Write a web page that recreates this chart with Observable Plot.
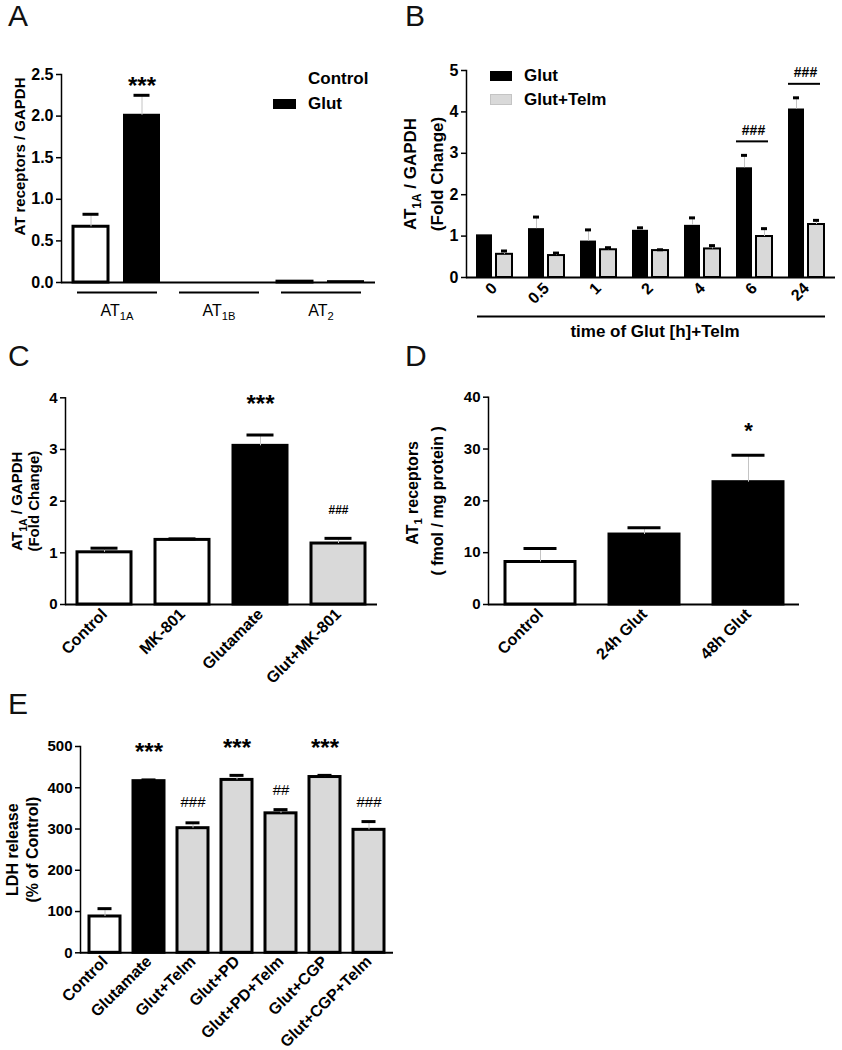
<!DOCTYPE html>
<html><head><meta charset="utf-8">
<script src="https://cdn.jsdelivr.net/npm/d3@7"></script>
<script src="https://cdn.jsdelivr.net/npm/@observablehq/plot@0.6"></script>
<style>
html,body{margin:0;padding:0;background:#fff;}
#page{position:relative;width:842px;height:1050px;background:#fff;font-family:"Liberation Sans",Arial,Helvetica,sans-serif;overflow:hidden;}
.panel{position:absolute;}
.letter{position:absolute;font-size:30px;line-height:30px;font-weight:normal;color:#111;}
.leg{position:absolute;font-size:17px;line-height:20px;font-weight:bold;color:#000;white-space:nowrap;}
.sw{position:absolute;}
</style></head><body><div id="page"></div>
<script>
// ---------- DATA ----------
// Panel A
const aReceptors = ["AT1A", "AT1B", "AT2"];
const aReceptorLabels = ["AT_{1A}", "AT_{1B}", "AT_{2}"];
const aConditions = ["Control", "Glut"];
const aControl = [0.67, 0, 0.01];
const aControlSem = [0.15, 0, 0];
const aGlut = [2.01, 0, 0.01];
const aGlutSem = [0.24, 0, 0];
const aSig = [{key: "AT1A|Glut", text: "***", y: 2.36}];

// Panel B
const bTimes = ["0", "0.5", "1", "2", "4", "6", "24"];
const bGlut = [1.03, 1.18, 0.88, 1.14, 1.26, 2.65, 4.07];
const bGlutSem = [0, 0.28, 0.27, 0.06, 0.18, 0.30, 0.27];
const bTelm = [0.56, 0.53, 0.67, 0.65, 0.69, 0.99, 1.28];
const bTelmSem = [0.08, 0.06, 0.05, 0.02, 0.08, 0.19, 0.10];
const bSig = [{time: "6", text: "###"}, {time: "24", text: "###"}];

// Panel C
const cGroups = ["Control", "MK-801", "Glutamate", "Glut+MK-801"];
const cValues = [1.01, 1.25, 3.07, 1.18];
const cSem = [0.08, 0.02, 0.21, 0.10];
const cSig = [{g: "Glutamate", text: "***", y: 3.87, size: 24}, {g: "Glut+MK-801", text: "###", y: 1.82, size: 12}];

// Panel D
const dGroups = ["Control", "24h Glut", "48h Glut"];
const dValues = [8.2, 13.5, 23.6];
const dSem = [2.6, 1.3, 5.2];
const dSig = [{g: "48h Glut", text: "*", y: 33.4}];

// Panel E
const eGroups = ["Control", "Glutamate", "Glut+Telm", "Glut+PD", "Glut+PD+Telm", "Glut+CGP", "Glut+CGP+Telm"];
const eValues = [88, 416, 302, 419, 338, 426, 298];
const eSem = [19, 3, 13, 11, 9, 4, 20];
const eSig = [
  {g: "Glutamate", text: "***", y: 486, size: 24},
  {g: "Glut+PD", text: "***", y: 495, size: 24},
  {g: "Glut+CGP", text: "***", y: 495, size: 24},
  {g: "Glut+Telm", text: "###", y: 364, size: 15},
  {g: "Glut+PD+Telm", text: "##", y: 394, size: 15},
  {g: "Glut+CGP+Telm", text: "###", y: 364, size: 15}
];

// ---------- HELPERS ----------
const FONT = '"Liberation Sans", Arial, Helvetica, sans-serif';
const baseStyle = {fontFamily: FONT, fontWeight: "bold", fontSize: "15px", color: "black", background: "transparent", overflow: "visible"};
const page = document.getElementById("page");
const GRAY = "#d9d9d9";
const ERR = "#c4c4c4";

function place(plot, left, top, w, h) {
  const div = document.createElement("div");
  div.className = "panel";
  Object.assign(div.style, {left: left + "px", top: top + "px", width: w + "px", height: h + "px"});
  div.appendChild(plot);
  page.appendChild(div);
  return div;
}
function html(cls, text, left, top, extra) {
  const d = document.createElement("div");
  d.className = cls;
  if (text) d.textContent = text;
  Object.assign(d.style, {left: left + "px", top: top + "px"}, extra || {});
  page.appendChild(d);
}
function subscripts(root) {
  root.querySelectorAll("text").forEach(t => {
    const nodes = t.querySelector("tspan") ? Array.from(t.querySelectorAll("tspan")) : [t];
    nodes.forEach(n => {
      const s = n.textContent;
      if (!/_\{/.test(s)) return;
      const fs = parseFloat(getComputedStyle(n).fontSize) || 15;
      const parts = s.split(/(_\{[^}]*\})/);
      n.textContent = "";
      let shifted = false;
      parts.forEach(p => {
        if (!p) return;
        const m = p.match(/^_\{([^}]*)\}$/);
        const ts = document.createElementNS("http://www.w3.org/2000/svg", "tspan");
        if (m) {
          ts.textContent = m[1];
          ts.setAttribute("font-size", (fs * 0.7).toFixed(1));
          ts.setAttribute("dy", (fs * 0.3).toFixed(1));
          shifted = true;
        } else {
          ts.textContent = p;
          if (shifted) { ts.setAttribute("dy", (-fs * 0.3).toFixed(1)); shifted = false; }
        }
        n.appendChild(ts);
      });
    });
  });
}
function yLabel(text, dx, dy, size) {
  return Plot.text([text], {text: d => d, frameAnchor: "left", textAnchor: "middle", lineAnchor: "middle", rotate: -90, dx, dy: dy || 0, fontSize: size});
}

// ---------- PANEL A ----------
const aRows = [];
aReceptors.forEach((r, i) => {
  aRows.push({key: r + "|Control", r, c: "Control", value: aControl[i], sem: aControlSem[i]});
  aRows.push({key: r + "|Glut", r, c: "Glut", value: aGlut[i], sem: aGlutSem[i]});
});
const aKeys = aRows.map(d => d.key);
const aLabelRows = aReceptors.map((r, i) => ({key: r + "|Control", label: aReceptorLabels[i]}));
const plotA = Plot.plot({
  width: 420, height: 280, marginLeft: 61, marginRight: 45, marginTop: 24, marginBottom: 48,
  style: baseStyle,
  x: {domain: aKeys, paddingInner: 0.31, paddingOuter: 0.21, axis: null},
  y: {domain: [0, 2.5], label: null},
  marks: [
    Plot.barY(aRows.filter(d => d.c === "Control" && d.value > 0), {x: "key", y: "value", fill: "white", stroke: "black", strokeWidth: 3}),
    Plot.barY(aRows.filter(d => d.c === "Glut" && d.value > 0), {x: "key", y: "value", fill: "black", stroke: "black", strokeWidth: 2}),
    Plot.ruleX(aRows.filter(d => d.sem > 0), {x: "key", y1: "value", y2: d => d.value + d.sem, stroke: ERR, strokeWidth: 1}),
    Plot.tickY(aRows.filter(d => d.sem > 0), {x: "key", y: d => d.value + d.sem, stroke: "black", strokeWidth: 3, insetLeft: 9.5, insetRight: 9.5}),
    Plot.text(aSig, {x: "key", y: "y", text: "text", fontSize: 24}),
    Plot.ruleY([0], {strokeWidth: 2}),
    Plot.frame({anchor: "left", strokeWidth: 1.5}),
    Plot.axisY({ticks: [0, 0.5, 1, 1.5, 2, 2.5], tickFormat: ".1f", tickSize: 5, tickPadding: 3, fontSize: 16, label: null, strokeWidth: 1.5}),
    Plot.tickY(aRows.filter(d => d.c === "Control"), {x: "key", y: 0, dy: 10, strokeWidth: 2, insetLeft: 4, insetRight: -8}),
    Plot.tickY(aRows.filter(d => d.c === "Glut"), {x: "key", y: 0, dy: 10, strokeWidth: 2, insetLeft: -8, insetRight: 2}),
    Plot.text(aLabelRows, {x: "key", y: 0, text: "label", dx: 26, dy: 28, fontSize: 16, fontWeight: "normal"}),
    yLabel("AT receptors / GAPDH", -41.5, -22, 15)
  ]
});
place(plotA, 0, 50, 420, 280);

// ---------- PANEL B ----------
const bRows = bTimes.map((t, i) => ({time: t, glut: bGlut[i], glutSem: bGlutSem[i], telm: bTelm[i], telmSem: bTelmSem[i]}));
const bSigRows = bSig.map(s => {
  const r = bRows.find(d => d.time === s.time);
  return {...s, cap: r.glut + r.glutSem};
});
const plotB = Plot.plot({
  width: 452, height: 305, marginLeft: 76, marginRight: 7, marginTop: 30, marginBottom: 68,
  style: baseStyle,
  x: {domain: bTimes, paddingInner: 0.30, paddingOuter: 0.15, label: null},
  y: {domain: [0, 5], label: null},
  marks: [
    Plot.barY(bRows, {x: "time", y: "glut", fill: "black", insetRight: 20}),
    Plot.barY(bRows, {x: "time", y: "telm", fill: GRAY, stroke: "black", strokeWidth: 2, insetLeft: 20}),
    Plot.ruleX(bRows.filter(d => d.glutSem > 0), {x: "time", y1: "glut", y2: d => d.glut + d.glutSem, dx: -10, stroke: ERR}),
    Plot.ruleX(bRows.filter(d => d.telmSem > 0), {x: "time", y1: "telm", y2: d => d.telm + d.telmSem, dx: 10, stroke: ERR}),
    Plot.tickY(bRows.filter(d => d.glutSem > 0), {x: "time", y: d => d.glut + d.glutSem, stroke: "black", strokeWidth: 3, insetLeft: 5, insetRight: 25}),
    Plot.tickY(bRows.filter(d => d.telmSem > 0), {x: "time", y: d => d.telm + d.telmSem, stroke: "black", strokeWidth: 3, insetLeft: 25, insetRight: 5}),
    Plot.tickY(bSigRows, {x: "time", y: "cap", dy: -14, strokeWidth: 2, insetLeft: 0, insetRight: 4}),
    Plot.text(bSigRows, {x: "time", y: "cap", dy: -25, dx: -1, text: "text", fontSize: 14}),
    Plot.ruleY([0], {strokeWidth: 2}),
    Plot.frame({anchor: "left", strokeWidth: 1.5}),
    Plot.axisY({ticks: [0, 1, 2, 3, 4, 5], tickFormat: "d", tickSize: 5, tickPadding: 3, fontSize: 16, label: null, strokeWidth: 1.5}),
    Plot.axisX({tickSize: 0, tickPadding: 8, tickRotate: -45, fontSize: 16, label: null}),
    Plot.ruleY([0], {dy: 39, insetLeft: 11, insetRight: 10, strokeWidth: 2}),
    Plot.text(["time of Glut [h]+Telm"], {text: d => d, frameAnchor: "bottom", textAnchor: "middle", lineAnchor: "middle", dy: 54, dx: 4, fontSize: 17}),
    yLabel("AT_{1A} / GAPDH", -56, 0, 17),
    yLabel("(Fold Change)", -29, 0, 17)
  ]
});
place(plotB, 390, 40, 452, 305);

// ---------- PANEL C ----------
const cRows = cGroups.map((g, i) => ({g, value: cValues[i], sem: cSem[i]}));
const plotC = Plot.plot({
  width: 410, height: 310, marginLeft: 65, marginRight: 33, marginTop: 22.3, marginBottom: 81,
  style: baseStyle,
  x: {domain: cGroups, paddingInner: 0.31, paddingOuter: 0.155, label: null},
  y: {domain: [0, 4], label: null},
  color: {domain: cGroups, range: ["white", "white", "black", GRAY]},
  marks: [
    Plot.barY(cRows, {x: "g", y: "value", fill: "g", stroke: "black", strokeWidth: 3}),
    Plot.ruleX(cRows, {x: "g", y1: "value", y2: d => d.value + d.sem, stroke: ERR}),
    Plot.tickY(cRows, {x: "g", y: d => d.value + d.sem, stroke: "black", strokeWidth: 3, insetLeft: 13.5, insetRight: 13.5}),
    Plot.text(cSig.filter(d => d.size > 20), {x: "g", y: "y", text: "text", fontSize: 24}),
    Plot.text(cSig.filter(d => d.size < 20), {x: "g", y: "y", text: "text", fontSize: 12}),
    Plot.ruleY([0], {strokeWidth: 2}),
    Plot.frame({anchor: "left", strokeWidth: 1.5}),
    Plot.axisY({ticks: [0, 1, 2, 3, 4], tickFormat: "d", tickSize: 5, tickPadding: 3, fontSize: 15, label: null, strokeWidth: 1.5}),
    Plot.axisX({tickSize: 0, tickPadding: 7, tickRotate: -45, fontSize: 16, label: null}),
    yLabel("AT_{1A} / GAPDH", -48, 0, 15),
    yLabel("(Fold Change)", -31, 0, 15)
  ]
});
place(plotC, 0, 375, 410, 310);

// ---------- PANEL D ----------
const dRows = dGroups.map((g, i) => ({g, value: dValues[i], sem: dSem[i]}));
const plotD = Plot.plot({
  width: 442, height: 310, marginLeft: 88, marginRight: 43, marginTop: 21.7, marginBottom: 81,
  style: baseStyle,
  x: {domain: dGroups, paddingInner: 0.33, paddingOuter: 0.16, label: null},
  y: {domain: [0, 40], label: null},
  color: {domain: dGroups, range: ["white", "black", "black"]},
  marks: [
    Plot.barY(dRows, {x: "g", y: "value", fill: "g", stroke: "black", strokeWidth: 3}),
    Plot.ruleX(dRows, {x: "g", y1: "value", y2: d => d.value + d.sem, stroke: ERR}),
    Plot.tickY(dRows, {x: "g", y: d => d.value + d.sem, stroke: "black", strokeWidth: 3, insetLeft: 18.5, insetRight: 18.5}),
    Plot.text(dSig, {x: "g", y: "y", text: "text", fontSize: 22}),
    Plot.ruleY([0], {strokeWidth: 2}),
    Plot.frame({anchor: "left", strokeWidth: 1.5}),
    Plot.axisY({ticks: [0, 10, 20, 30, 40], tickFormat: "d", tickSize: 5, tickPadding: 3, fontSize: 15, label: null, strokeWidth: 1.5}),
    Plot.axisX({tickSize: 0, tickPadding: 7, tickRotate: -45, fontSize: 16, label: null}),
    yLabel("AT_{1} receptors", -76, -8, 16),
    yLabel("( fmol / mg protein )", -51, 0, 16)
  ]
});
place(plotD, 400, 375, 442, 310);

// ---------- PANEL E ----------
const eRows = eGroups.map((g, i) => ({g, value: eValues[i], sem: eSem[i]}));
const plotE = Plot.plot({
  width: 410, height: 330, marginLeft: 80, marginRight: 17, marginTop: 26, marginBottom: 97.7,
  style: baseStyle,
  x: {domain: eGroups, paddingInner: 0.306, paddingOuter: 0.153, label: null},
  y: {domain: [0, 500], label: null},
  color: {domain: eGroups, range: ["white", "black", GRAY, GRAY, GRAY, GRAY, GRAY]},
  marks: [
    Plot.barY(eRows, {x: "g", y: "value", fill: "g", stroke: "black", strokeWidth: 3}),
    Plot.ruleX(eRows, {x: "g", y1: "value", y2: d => d.value + d.sem, stroke: ERR}),
    Plot.tickY(eRows, {x: "g", y: d => d.value + d.sem, stroke: "black", strokeWidth: 3, insetLeft: 8.5, insetRight: 8.5}),
    Plot.text(eSig.filter(d => d.size > 20), {x: "g", y: "y", text: "text", fontSize: 24}),
    Plot.text(eSig.filter(d => d.size < 20), {x: "g", y: "y", text: "text", fontSize: 15, fontWeight: "normal"}),
    Plot.ruleY([0], {strokeWidth: 2}),
    Plot.frame({anchor: "left", strokeWidth: 1.5}),
    Plot.axisY({ticks: [0, 100, 200, 300, 400, 500], tickFormat: "d", tickSize: 5, tickPadding: 3, fontSize: 15, label: null, strokeWidth: 1.5}),
    Plot.axisX({tickSize: 0, tickPadding: 6, tickRotate: -45, fontSize: 16, label: null}),
    yLabel("LDH release", -68, 0, 16),
    yLabel("(% of Control)", -48, 0, 16)
  ]
});
place(plotE, 0, 720, 410, 330);

[plotA, plotB, plotC, plotD, plotE].forEach(subscripts);

// ---------- LETTERS & LEGENDS ----------
html("letter", "A", 8, 1);
html("letter", "B", 405, 1);
html("letter", "C", 8, 341);
html("letter", "D", 405, 341);
html("letter", "E", 8, 689);

html("sw", "", 273, 74, {width: "23px", height: "10px", background: "white"});
html("leg", "Control", 308, 69);
html("sw", "", 273, 99, {width: "23px", height: "10px", background: "black"});
html("leg", "Glut", 308, 94);

html("sw", "", 490, 71, {width: "22px", height: "10px", background: "black"});
html("leg", "Glut", 524, 66);
html("sw", "", 490, 94, {width: "20px", height: "9px", background: GRAY, border: "1px solid #c4c4c4"});
html("leg", "Glut+Telm", 524, 90);
</script>
</body></html>
